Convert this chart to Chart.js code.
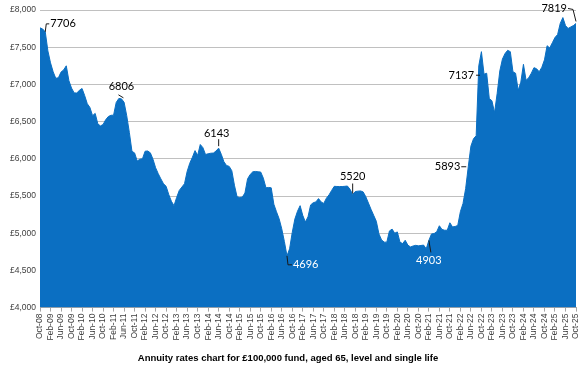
<!DOCTYPE html>
<html>
<head>
<meta charset="utf-8">
<script src="https://cdn.jsdelivr.net/npm/chart.js@4.4.1/dist/chart.umd.min.js"></script>
<style>
  html, body { margin: 0; padding: 0; background: #ffffff; }
  #wrap { width: 582px; height: 379px; }
</style>
</head>
<body>
<div id="wrap"><canvas id="c" width="582" height="379"></canvas></div>
<script>
// Tick labels, one every 4 months from Oct-08 to Oct-25
const tickLabels = [
  "Oct-08","Feb-09","Jun-09","Oct-09","Feb-10","Jun-10","Oct-10","Feb-11","Jun-11","Oct-11",
  "Feb-12","Jun-12","Oct-12","Feb-13","Jun-13","Oct-13","Feb-14","Jun-14","Oct-14","Feb-15",
  "Jun-15","Oct-15","Feb-16","Jun-16","Oct-16","Feb-17","Jun-17","Oct-17","Feb-18","Jun-18",
  "Oct-18","Feb-19","Jun-19","Oct-19","Feb-20","Jun-20","Oct-20","Feb-21","Jun-21","Oct-21",
  "Feb-22","Jun-22","Oct-22","Feb-23","Jun-23","Oct-23","Feb-24","Jun-24","Oct-24","Feb-25",
  "Jun-25","Oct-25"
];

// Monthly annuity income (£ per year), Oct-08 .. Oct-25
const annuityValues = [
  7760,7745,7706,7450,7290,7170,7082,7090,7165,7195,
  7250,7050,6950,6886,6885,6920,6945,6850,6740,6690,
  6580,6610,6470,6442,6460,6525,6568,6585,6586,6757,
  6811,6806,6760,6580,6355,6100,6079,5970,5995,6000,
  6102,6105,6080,5995,5880,5800,5730,5665,5630,5520,
  5430,5370,5480,5575,5620,5665,5830,5940,6020,6110,
  6045,6192,6150,6057,6068,6075,6077,6105,6143,6060,
  5960,5910,5898,5840,5645,5490,5480,5485,5540,5730,
  5790,5825,5830,5825,5822,5740,5610,5615,5610,5390,
  5288,5195,5060,4890,4696,4790,5010,5190,5295,5370,
  5240,5150,5220,5380,5410,5420,5465,5420,5400,5470,
  5515,5575,5630,5628,5627,5627,5630,5634,5590,5520,
  5560,5565,5568,5555,5490,5405,5320,5240,5160,4990,
  4910,4880,4880,5030,5055,5000,5017,4880,4860,4905,
  4840,4815,4828,4837,4830,4835,4840,4790,4903,4990,
  4995,5020,5100,5050,5040,5040,5140,5085,5090,5105,
  5290,5400,5600,5893,6170,6270,6310,7250,7440,7137,
  7150,6810,6780,6620,6880,7180,7340,7415,7458,7440,
  7170,7150,6920,7030,7270,7055,7090,7150,7225,7210,
  7170,7230,7330,7520,7490,7560,7630,7670,7820,7898,
  7790,7752,7772,7790,7819
];

// Month indexes whose values are labelled on the chart
const labelledMonths = [2, 31, 68, 94, 119, 148, 163, 169, 204];

const chartTitle = "Annuity rates chart for £100,000 fund, aged 65, level and single life";

// Label placement styles (offsets in px from the data point)
const labelStyles = {
  2:   { align: 'left',   dx: 5,   dy: -8,  color: '#000', leader: [[0,0],[1,-8],[4,-8]] },
  31:  { align: 'center', dx: 0,   dy: -12, color: '#000', leader: [[-3,-4],[2,-1]] },
  68:  { align: 'center', dx: -2,  dy: -15, color: '#000', leader: [[0,-2],[0,-9]] },
  94:  { align: 'left',   dx: 6,   dy: 9,   color: '#fff', leader: [[0,0],[1,9],[5,9]] },
  119: { align: 'center', dx: 0,   dy: -18, color: '#000', leader: [[0,-1],[0,-11]] },
  148: { align: 'center', dx: 0,   dy: 20,  color: '#fff', leader: [[0,0],[2,12]] },
  163: { align: 'right',  dx: -8,  dy: 0,   color: '#000', leader: [[-7,0],[-2,0]] },
  169: { align: 'right',  dx: -10, dy: 1,   color: '#000', leader: [[-8,1],[-4,1]] },
  204: { align: 'right',  dx: -9,  dy: -15, color: '#000', leader: [[-8,-15],[-3,-14],[0,-2]] }
};

const points = annuityValues.map((v, i) => ({ x: i, y: v }));

const valueLabelPlugin = {
  id: 'valueLabels',
  afterDatasetsDraw(chart) {
    const ctx = chart.ctx;
    const xs = chart.scales.x, ys = chart.scales.y;
    ctx.save();
    labelledMonths.forEach(i => {
      const st = labelStyles[i];
      const px = xs.getPixelForValue(i);
      const py = ys.getPixelForValue(annuityValues[i]);
      ctx.strokeStyle = '#1a1a1a';
      ctx.lineWidth = 1;
      ctx.beginPath();
      st.leader.forEach((p, k) => {
        if (k === 0) ctx.moveTo(px + p[0], py + p[1]);
        else ctx.lineTo(px + p[0], py + p[1]);
      });
      ctx.stroke();
      ctx.font = '11px Lato, "Open Sans", sans-serif';
      ctx.fillStyle = st.color;
      ctx.textAlign = st.align;
      ctx.textBaseline = 'middle';
      ctx.fillText(String(annuityValues[i]), px + st.dx, py + st.dy);
    });
    ctx.restore();
  }
};

new Chart(document.getElementById('c'), {
  type: 'line',
  data: {
    datasets: [{
      data: points,
      borderColor: '#0B6FC2',
      borderWidth: 1,
      backgroundColor: '#0B6FC2',
      fill: 'start',
      pointRadius: 0,
      tension: 0
    }]
  },
  options: {
    responsive: false,
    animation: false,
    events: [],
    layout: { padding: { left: 0, right: 6, top: 10, bottom: 2 } },
    plugins: {
      legend: { display: false },
      tooltip: { enabled: false },
      title: {
        display: true,
        position: 'bottom',
        text: chartTitle,
        color: '#000',
        font: { family: '"Liberation Sans", Arial, sans-serif', size: 9.5, weight: 'bold' },
        padding: { top: 5, bottom: 13 }
      }
    },
    scales: {
      x: {
        type: 'linear',
        min: 0,
        max: annuityValues.length - 1,
        afterFit(scale) {
          scale.height = 40;
          scale.paddingLeft = 0;
          scale.paddingRight = 0;
        },
        afterBuildTicks(scale) {
          scale.ticks = tickLabels.map((_, k) => ({ value: k * 4 }));
        },
        ticks: {
          autoSkip: false,
          minRotation: 90,
          maxRotation: 90,
          padding: 2,
          color: '#404040',
          font: { family: '"Liberation Sans", Arial, sans-serif', size: 8.5 },
          callback: (v) => tickLabels[Math.round(v / 4)]
        },
        grid: { display: true, drawOnChartArea: false, drawTicks: true, tickLength: 4, color: '#a6a6a6' },
        border: { display: true, color: '#a6a6a6' }
      },
      y: {
        min: 4000,
        max: 8000,
        afterFit(scale) { scale.width = 40; },
        ticks: {
          stepSize: 500,
          padding: 4,
          color: '#404040',
          font: { family: '"Liberation Sans", Arial, sans-serif', size: 8.5 },
          callback: (v) => '£' + v.toLocaleString('en-GB')
        },
        grid: { color: '#c0c0c0', drawTicks: false },
        border: { display: false }
      }
    }
  },
  plugins: [valueLabelPlugin]
});
</script>
</body>
</html>
